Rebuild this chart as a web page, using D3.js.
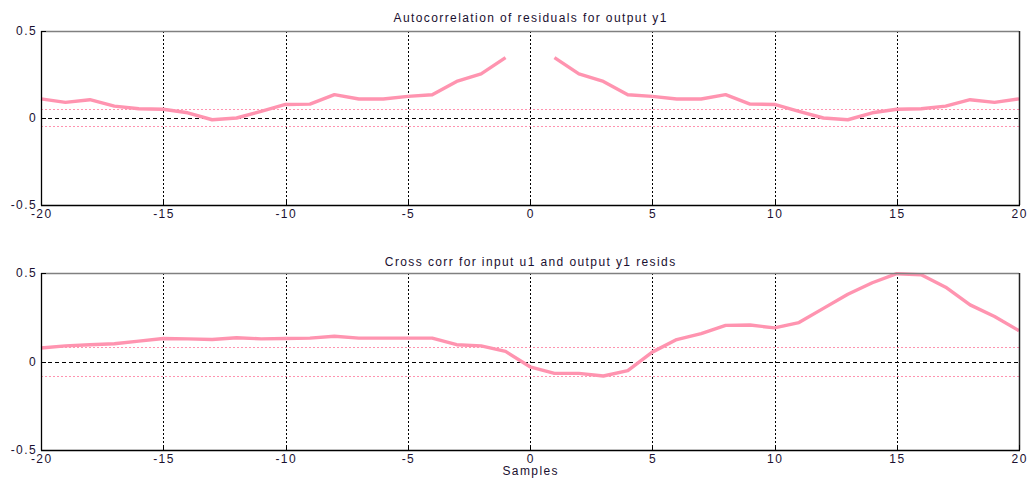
<!DOCTYPE html>
<html>
<head>
<meta charset="utf-8">
<script src="https://cdn.jsdelivr.net/npm/d3@7"></script>
<style>
  html, body { margin: 0; padding: 0; background: #fff; }
  svg text { font-family: "Liberation Sans", Arial, sans-serif; font-size: 12px; letter-spacing: 1.4px; fill: #1a1030; }
</style>
</head>
<body>
<svg id="chart" width="1035" height="479"></svg>
<script>
// ---- data ----
const lags = d3.range(-20, 21);
const autoLags = lags.filter(l => l !== 0);
const autoValues = [
  0.110, 0.090, 0.105, 0.068, 0.053, 0.050, 0.030, -0.010, 0.000, 0.038,
  0.078, 0.080, 0.134, 0.109, 0.109, 0.124, 0.134, 0.210, 0.254, 0.347,
  0.347, 0.254, 0.210, 0.134, 0.124, 0.109, 0.109, 0.134, 0.080, 0.078,
  0.038, 0.000, -0.010, 0.030, 0.050, 0.053, 0.068, 0.105, 0.090, 0.110
];
const crossValues = [
  0.076, 0.088, 0.095, 0.100, 0.115, 0.130, 0.128, 0.124, 0.134, 0.128,
  0.130, 0.132, 0.143, 0.132, 0.132, 0.132, 0.132, 0.095, 0.088, 0.057,
  -0.030, -0.067, -0.067, -0.082, -0.052, 0.053, 0.124, 0.158, 0.204, 0.206,
  0.190, 0.220, 0.300, 0.380, 0.445, 0.496, 0.490, 0.420, 0.320, 0.254, 0.174
];
const autoBound = [0.053, -0.047];
const crossBound = [0.082, -0.082];
const xTicks = [-20, -15, -10, -5, 0, 5, 10, 15, 20];
const yTicks = [-0.5, 0, 0.5];
const yTickLabels = ["-0.5", "0", "0.5"];
const titles = ["Autocorrelation of residuals for output y1", "Cross corr for input u1 and output y1 resids"];
const xLabel = "Samples";

// ---- layout ----
const svg = d3.select("#chart");
const left = 41, right = 1019;
const panels = [
  { top: 31, bottom: 205, title: titles[0], xs: autoLags, ys: autoValues, bound: autoBound, titleY: 22 },
  { top: 273, bottom: 450, title: titles[1], xs: lags, ys: crossValues, bound: crossBound, titleY: 266 }
];
const lineColor = "#ff94b0";

const x = d3.scaleLinear().domain([-20, 20]).range([left, right]);

panels.forEach((p, i) => {
  const y = d3.scaleLinear().domain([-0.5, 0.5]).range([p.bottom, p.top]);
  const g = svg.append("g");

  // vertical dotted grid
  g.selectAll("line.vg").data(xTicks.filter(t => t > -20 && t < 20)).join("line")
    .attr("x1", d => Math.round(x(d)) + 0.5).attr("x2", d => Math.round(x(d)) + 0.5)
    .attr("y1", p.top).attr("y2", p.bottom)
    .attr("stroke", "#000").attr("stroke-width", 1).attr("stroke-dasharray", "2,2");

  // zero line
  g.append("line")
    .attr("x1", left).attr("x2", right)
    .attr("y1", Math.round(y(0)) + 0.5).attr("y2", Math.round(y(0)) + 0.5)
    .attr("stroke", "#000").attr("stroke-width", 1).attr("stroke-dasharray", "4,3");

  // confidence bounds
  g.selectAll("line.cb").data(p.bound).join("line")
    .attr("x1", left).attr("x2", right)
    .attr("y1", d => Math.round(y(d)) + 0.5).attr("y2", d => Math.round(y(d)) + 0.5)
    .attr("stroke", "#ff94b0").attr("stroke-width", 1.2).attr("stroke-dasharray", "2,2");

  // data line
  const pts = p.xs.map((l, k) => [l, p.ys[k]]);
  const line = d3.line().x(d => x(d[0])).y(d => y(d[1]));
  const segs = i === 0 ? [pts.filter(d => d[0] < 0), pts.filter(d => d[0] > 0)] : [pts];
  segs.forEach(s => {
    g.append("path").datum(s).attr("d", line)
      .attr("fill", "none").attr("stroke", lineColor).attr("stroke-width", 3.4).attr("stroke-linejoin", "round");
  });

  // frame
  g.append("line").attr("x1", left).attr("x2", right).attr("y1", p.top + 0.5).attr("y2", p.top + 0.5)
    .attr("stroke", "#808080").attr("stroke-width", 1.5);
  g.append("line").attr("x1", right + 0.5).attr("x2", right + 0.5).attr("y1", p.top).attr("y2", p.bottom)
    .attr("stroke", "#222").attr("stroke-width", 1.5);
  g.append("line").attr("x1", left + 0.5).attr("x2", left + 0.5).attr("y1", p.top).attr("y2", p.bottom + 0.5)
    .attr("stroke", "#000").attr("stroke-width", 1.3);
  g.append("line").attr("x1", left).attr("x2", right + 1).attr("y1", p.bottom + 0.5).attr("y2", p.bottom + 0.5)
    .attr("stroke", "#000").attr("stroke-width", 1.3);

  // x ticks (inward) and labels
  g.selectAll("line.xt").data(xTicks).join("line")
    .attr("x1", d => Math.round(x(d)) + 0.5).attr("x2", d => Math.round(x(d)) + 0.5)
    .attr("y1", p.bottom).attr("y2", p.bottom - 5)
    .attr("stroke", "#000");
  g.selectAll("text.xl").data(xTicks).join("text")
    .attr("x", d => x(d) + 0.7).attr("y", p.bottom + 13)
    .attr("text-anchor", "middle").text(d => d);

  // y ticks and labels
  g.selectAll("line.yt").data(yTicks).join("line")
    .attr("x1", left).attr("x2", left + 5)
    .attr("y1", d => Math.round(y(d)) + 0.5).attr("y2", d => Math.round(y(d)) + 0.5)
    .attr("stroke", "#000");
  g.selectAll("text.yl").data(yTicks).join("text")
    .attr("x", left - 4).attr("y", d => y(d) + 4)
    .attr("text-anchor", "end").text((d, k) => yTickLabels[k]);

  // title
  g.append("text").attr("x", (left + right) / 2 + 0.7).attr("y", p.titleY)
    .attr("text-anchor", "middle").text(p.title);
});

svg.append("text").attr("x", x(0) + 0.7).attr("y", 475).attr("text-anchor", "middle").text(xLabel);
</script>
</body>
</html>
